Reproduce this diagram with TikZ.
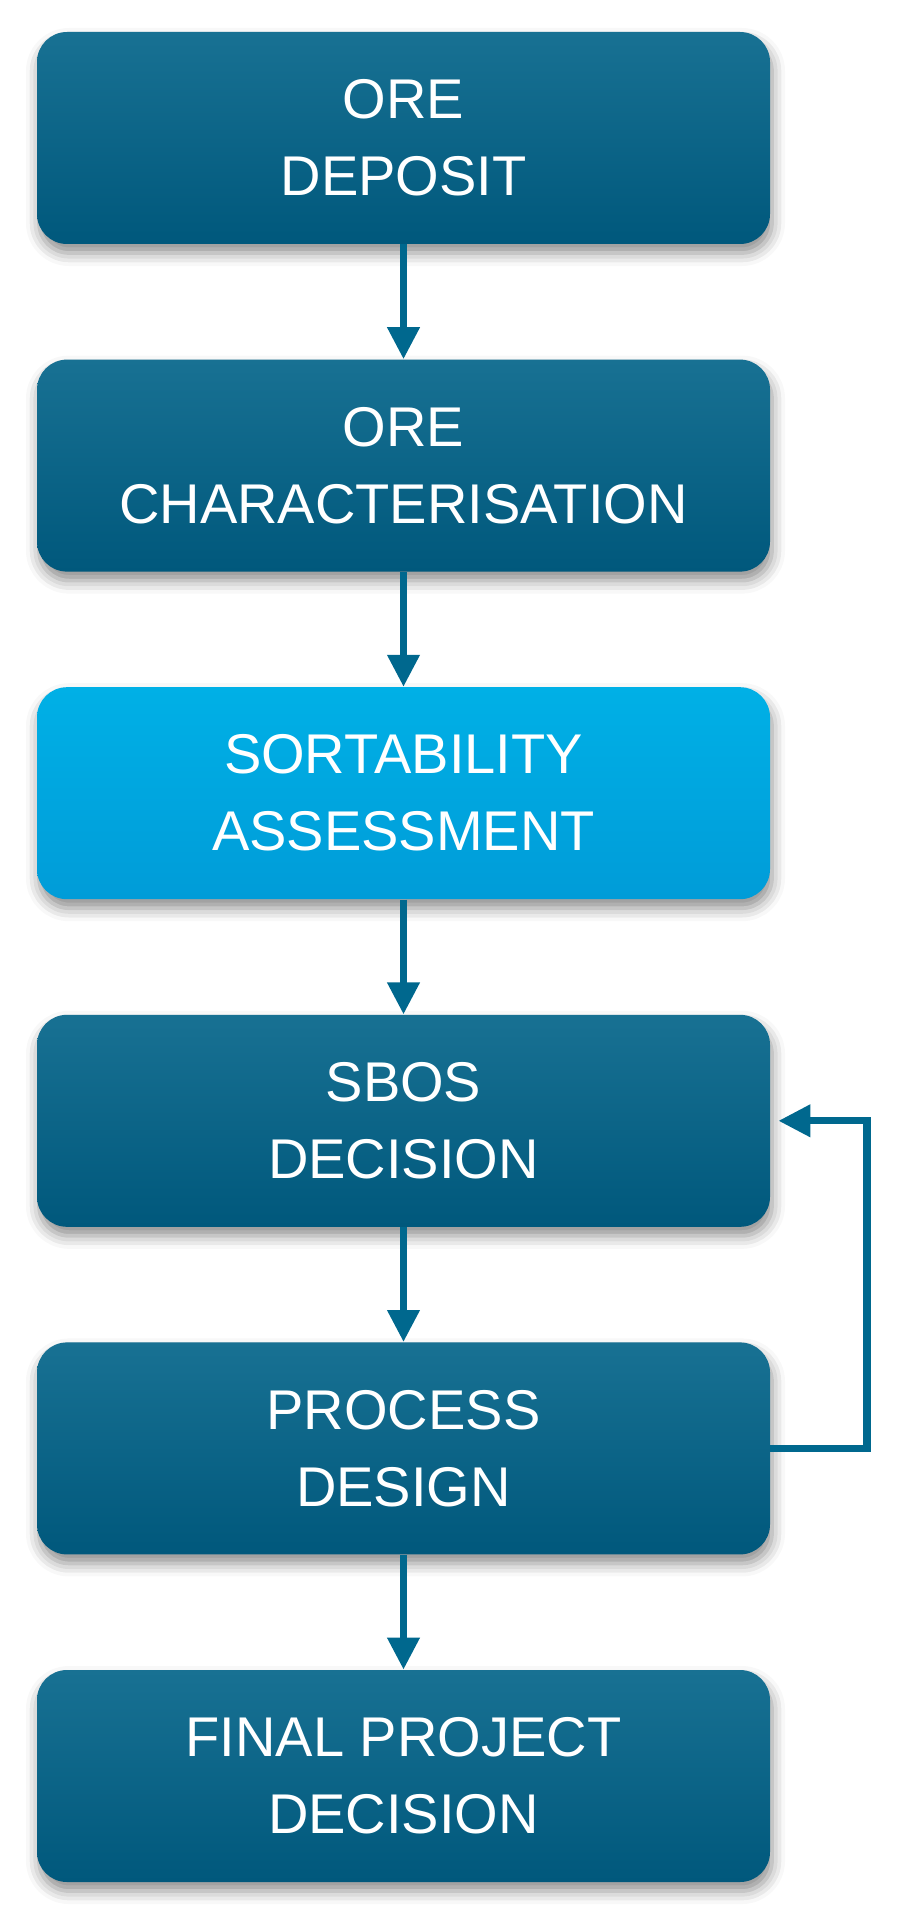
\documentclass[tikz,border=0pt]{standalone}
\usepackage{fontspec}
\setmainfont{Liberation Sans}
\usetikzlibrary{arrows.meta,shadows.blur}
\definecolor{boxtop}{RGB}{24,113,147}
\definecolor{boxbot}{RGB}{0,88,124}
\definecolor{hltop}{RGB}{0,176,230}
\definecolor{hlbot}{RGB}{0,156,216}
\definecolor{arrowc}{RGB}{0,104,142}
\tikzset{
  stepbox/.style={rectangle, rounded corners=15pt, minimum width=366.5pt, minimum height=106pt,
    inner sep=0pt, text=white, align=center, font=\fontsize{28}{38.5}\selectfont,
    top color=boxtop, bottom color=boxbot, draw=none,
    blur shadow={shadow xshift=1pt, shadow yshift=-4.5pt, shadow blur radius=6.5pt, shadow opacity=45}},
  hlbox/.style={stepbox, top color=hltop, bottom color=hlbot},
  flow/.style={draw=arrowc, line width=3.6pt, -{Triangle[width=15.5pt,length=16pt]}}
}
\begin{document}
\begin{tikzpicture}[x=0.5pt,y=-0.5pt]
\useasboundingbox (0,0) rectangle (907,1921);
\node[stepbox] (b1) at (403.5,138) {ORE\\DEPOSIT};
\node[stepbox] (b2) at (403.5,465.6) {ORE\\CHARACTERISATION};
\node[hlbox]   (b3) at (403.5,793.2) {SORTABILITY\\ASSESSMENT};
\node[stepbox] (b4) at (403.5,1120.8) {SBOS\\DECISION};
\node[stepbox] (b5) at (403.5,1448.4) {PROCESS\\DESIGN};
\node[stepbox] (b6) at (403.5,1776) {FINAL PROJECT\\DECISION};
\draw[flow] (b1.south) -- (b2.north);
\draw[flow] (b2.south) -- (b3.north);
\draw[flow] (b3.south) -- (b4.north);
\draw[flow] (b4.south) -- (b5.north);
\draw[flow] (b5.south) -- (b6.north);
\coordinate (loopx) at (867,0);
\draw[flow, shorten >=4pt] (b5.east) -- (b5.east -| loopx) -- (b4.east -| loopx) -- (b4.east);
\end{tikzpicture}
\end{document}
